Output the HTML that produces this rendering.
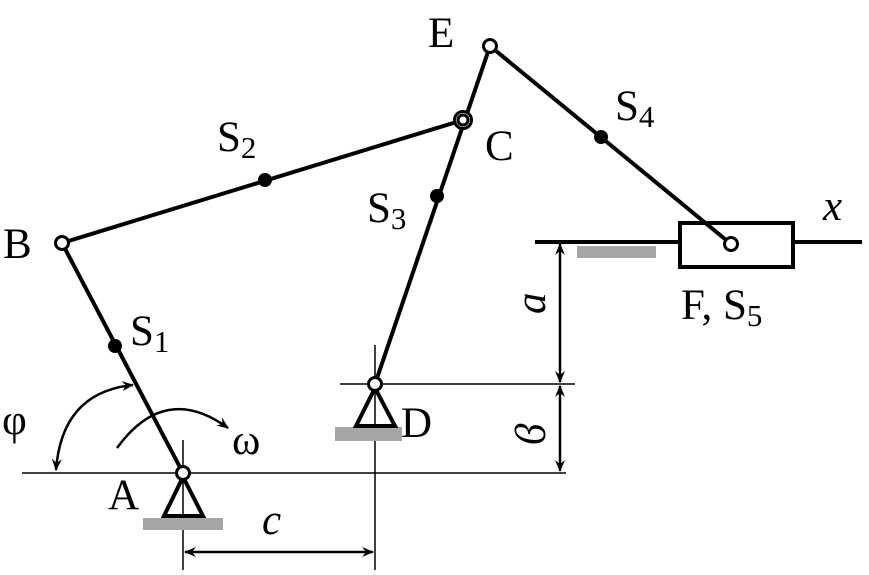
<!DOCTYPE html>
<html><head><meta charset="utf-8"><style>html,body{margin:0;padding:0;background:#fff}svg{display:block}</style></head>
<body>
<svg width="869" height="575" viewBox="0 0 869 575" xmlns="http://www.w3.org/2000/svg" font-family="'Liberation Serif', serif">
<defs>
<marker id="ar" viewBox="0 0 12 10" refX="11" refY="5" markerWidth="12" markerHeight="10" markerUnits="userSpaceOnUse" orient="auto-start-reverse">
<path d="M0,0 L12,5 L0,10 L4,5 Z" fill="#000"/>
</marker>
</defs>
<g stroke="#000" stroke-width="1.5" fill="none">
<line x1="22" y1="473" x2="566" y2="473"/>
<line x1="340" y1="384" x2="575" y2="384"/>
<line x1="183" y1="440" x2="183" y2="570"/>
<line x1="375" y1="345" x2="375" y2="570"/>
</g>
<g stroke="#000" stroke-width="2.5" fill="none">
<line x1="560" y1="244" x2="560" y2="382" marker-start="url(#ar)" marker-end="url(#ar)"/>
<line x1="560" y1="386" x2="560" y2="471" marker-start="url(#ar)" marker-end="url(#ar)"/>
<line x1="185" y1="552" x2="373" y2="552" marker-start="url(#ar)" marker-end="url(#ar)"/>
<path d="M133,385 Q62,392 56,470" marker-start="url(#ar)" marker-end="url(#ar)"/>
<path d="M117,448 Q165,382 228,428" marker-end="url(#ar)"/>
</g>
<g fill="#a6a6a6">
<rect x="143" y="518" width="80" height="12"/>
<rect x="335" y="427" width="67" height="14"/>
<rect x="577" y="246" width="79" height="12"/>
</g>
<g stroke="#000" stroke-width="4" fill="none">
<line x1="535" y1="242" x2="680" y2="242"/>
<line x1="793" y1="242" x2="862" y2="242"/>
<rect x="680" y="223" width="113" height="44" fill="#fff"/>
<polygon points="183,477 164,516 203,516"/>
<polygon points="375,388 356,426 395,426"/>
<line x1="183" y1="473" x2="62" y2="243"/>
<line x1="62" y1="243" x2="463" y2="120"/>
<line x1="375" y1="384" x2="490" y2="46"/>
<line x1="490" y1="46" x2="731" y2="244"/>
</g>
<g stroke="#000" stroke-width="3" fill="#fff">
<circle cx="183" cy="473" r="6.5"/>
<circle cx="62" cy="243" r="6.5"/>
<circle cx="463" cy="120" r="8.5"/>
<circle cx="463" cy="120" r="5"/>
<circle cx="375" cy="384" r="6.5"/>
<circle cx="490" cy="46" r="6.5"/>
<circle cx="731" cy="244" r="6.5"/>
</g>
<g fill="#000">
<circle cx="115" cy="346" r="7"/>
<circle cx="265" cy="180" r="7"/>
<circle cx="437" cy="196" r="7"/>
<circle cx="601" cy="137" r="7"/>
</g>
<g font-size="43" fill="#000">
<text x="3" y="258">B</text>
<text x="428" y="47">E</text>
<text x="485" y="160">C</text>
<text x="401" y="437">D</text>
<text x="108" y="509">A</text>
<text x="130" y="345">S<tspan font-size="31" dy="7">1</tspan></text>
<text x="217" y="151">S<tspan font-size="31" dy="7">2</tspan></text>
<text x="367" y="222">S<tspan font-size="31" dy="7">3</tspan></text>
<text x="615" y="120">S<tspan font-size="31" dy="7">4</tspan></text>
<text x="681" y="319">F, S<tspan font-size="31" dy="7">5</tspan></text>
<text x="2" y="434">φ</text>
<text x="232" y="454">ω</text>
<text x="262" y="534" font-style="italic">c</text>
<text x="823" y="220" font-style="italic">x</text>
<text transform="translate(545,314) rotate(-90)" font-style="italic">a</text>
<text transform="translate(545,445) rotate(-90)" font-style="italic">ϐ</text>
</g>
</svg>
</body></html>
